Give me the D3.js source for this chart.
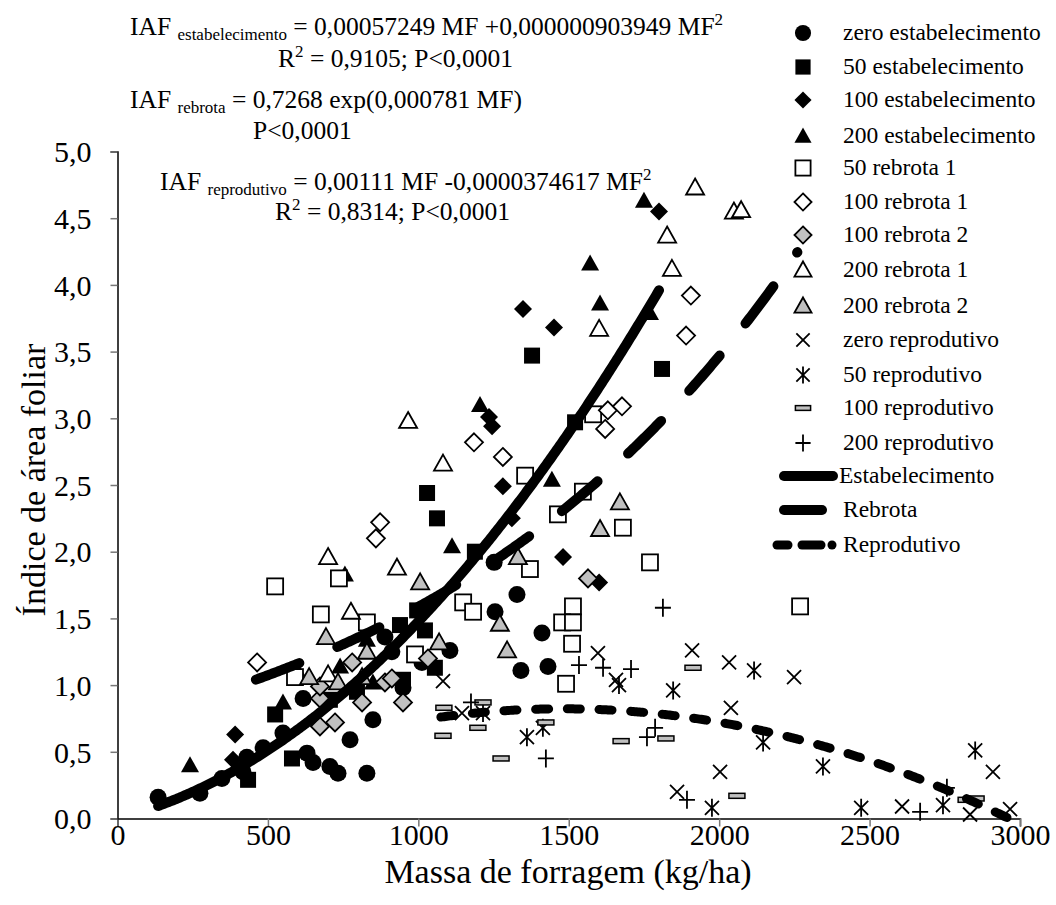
<!DOCTYPE html>
<html><head><meta charset="utf-8">
<script src="https://cdn.jsdelivr.net/npm/d3@7"></script>
<style>body{margin:0;background:#fff} text{font-family:"Liberation Serif","Times New Roman",serif;fill:#000}</style>
</head><body><svg id="c" width="1056" height="905"></svg>
<script>
// ---- data ----
const xTicks=[0,500,1000,1500,2000,2500,3000];
const yTicks=[0,0.5,1,1.5,2,2.5,3,3.5,4,4.5,5];
const xTitle="Massa de forragem (kg/ha)";
const yTitle="Índice de área foliar";

const zeroEst=[[135,0.16],[274,0.19],[347,0.30],[417,0.35],[430,0.46],[484,0.53],[550,0.64],[617,0.90],[630,0.49],[650,0.42],[706,0.39],[733,0.34],[773,0.59],[829,0.34],[849,0.74],[889,1.36],[912,1.25],[949,0.98],[1012,1.17],[1105,1.26],[1252,1.92],[1328,1.68],[1255,1.55],[1411,1.39],[1341,1.11],[1431,1.14]];
const est50=[[434,0.29],[524,0.78],[580,0.45],[706,0.89],[796,0.95],[949,1.04],[939,1.45],[996,1.56],[1022,1.41],[1055,1.13],[1029,2.44],[1062,2.25],[1188,2.00],[1521,2.97],[1378,3.47],[1810,3.37]];
const est100=[[391,0.63],[384,0.44],[1245,2.94],[1281,2.49],[1481,1.96],[1601,1.77],[1311,2.25],[1348,3.82],[1451,3.68],[1800,4.55],[1235,3.01]];
const est200=[[241,0.40],[550,0.87],[600,1.10],[756,1.83],[829,1.34],[740,1.14],[849,1.02],[1112,2.04],[1205,3.10],[1444,2.54],[1571,4.16],[1604,3.86],[1750,4.63],[1770,3.79]];
const reb1_50=[[524,1.74],[676,1.53],[736,1.80],[829,1.47],[590,1.06],[989,1.23],[1355,2.57],[1547,2.45],[1464,2.28],[1371,1.87],[1680,2.18],[1770,1.92],[1149,1.62],[1182,1.55],[1514,1.59],[1478,1.47],[1514,1.47],[1511,1.31],[1581,3.03],[1491,1.01],[2269,1.59]];
const reb1_100=[[464,1.17],[873,2.22],[859,2.10],[1185,2.82],[1281,2.71],[1621,2.92],[1630,3.06],[1677,3.09],[1906,3.92],[1890,3.62]];
const reb2_100=[[780,1.17],[673,0.90],[673,0.69],[723,0.72],[813,0.87],[889,1.02],[912,1.05],[949,0.87],[1032,1.20],[1564,1.80],[673,0.99]];
const reb1_200=[[700,1.96],[776,1.55],[929,1.88],[700,1.08],[1082,2.66],[966,2.98],[1601,3.67],[1843,4.12],[1827,4.37],[1920,4.73],[2049,4.55],[2073,4.56]];
const reb2_200=[[693,1.36],[829,1.25],[637,1.06],[733,1.02],[813,1.06],[1006,1.77],[1069,1.32],[1670,2.37],[1604,2.17],[1331,1.96],[1271,1.46],[1295,1.26]];
const repZero=[[1145,0.79],[1597,1.24],[1657,1.04],[1910,1.26],[1860,0.20],[1082,1.03],[2033,1.17],[2249,1.06],[2039,0.83],[2003,0.35],[2608,0.09],[2834,0.03],[2910,0.35],[2967,0.07]];
const rep50=[[1361,0.61],[1414,0.68],[1215,0.79],[1667,1.00],[1847,0.96],[2116,1.11],[2146,0.57],[2345,0.39],[1976,0.08],[2472,0.08],[2744,0.10],[2851,0.51]];
const rep100=[[1085,0.83],[1215,0.87],[1198,0.68],[1082,0.62],[1275,0.45],[1424,0.72],[1674,0.58],[1823,0.60],[1913,1.13],[2059,0.17],[2821,0.14],[2854,0.15]];
const rep200=[[1534,1.15],[1614,1.13],[1707,1.12],[1175,0.87],[1424,0.45],[1787,0.68],[1760,0.61],[1893,0.14],[1813,1.58],[2668,0.05],[2757,0.23]];

// trendline coefficients (from the printed equations) and fitted ranges
const estCoef=[0.00057249,0.000000903949];  const estRange=[135,1800];
const rebCoef=[0.7268,0.000781];            const rebRange=[460,2262];
const repCoef=[0.00111,0.000000374617];     const repRange=[1075,2965];

const seriesNames=["zero estabelecimento","50 estabelecimento","100 estabelecimento","200 estabelecimento","50 rebrota 1","100 rebrota 1","100 rebrota 2","200 rebrota 1","200 rebrota 2","zero reprodutivo","50 reprodutivo","100 reprodutivo","200 reprodutivo"];
const seriesData=[zeroEst,est50,est100,est200,reb1_50,reb1_100,reb2_100,reb1_200,reb2_200,repZero,rep50,rep100,rep200];
const seriesSym=["circle","square","diamond","triangle","square","diamond","diamond","triangle","triangle","x","asterisk","bar","plus"];
const seriesFill=["#000","#000","#000","#000","#fff","#fff","#c0c0c0","#fff","#c0c0c0","none","none","#c0c0c0","none"];
const lineNames=["Estabelecimento","Rebrota","Reprodutivo"];

// ---- chart ----
const svg=d3.select("#c");
const x=d3.scaleLinear().domain([0,3000]).range([117.5,1020]);
const y=d3.scaleLinear().domain([0,5]).range([818.5,151.5]);

// axes
const xa=svg.append("g").attr("transform","translate(0,818.5)").call(d3.axisBottom(x).tickValues(xTicks).tickSize(8).tickFormat(d3.format("d")));
const ya=svg.append("g").attr("transform","translate(117.5,0)").call(d3.axisLeft(y).tickValues(yTicks).tickSize(7).tickFormat(d=>d3.format(".1f")(d).replace(".",",")));
[xa,ya].forEach(g=>{g.select(".domain").attr("stroke","#000").attr("stroke-width",1.5);
  g.selectAll(".tick line").attr("stroke","#777").attr("stroke-width",1.5);
  g.selectAll("text").attr("font-family","Liberation Serif").attr("font-size",30).attr("fill","#000");});
xa.selectAll("text").attr("y",0).attr("dy",0).attr("transform","translate(0,26)");
ya.selectAll("text").attr("x",-26).attr("dy","0.34em");
svg.append("text").attr("x",568).attr("y",883).attr("text-anchor","middle").attr("font-size",34).text(xTitle);
svg.append("text").attr("transform","translate(45,480) rotate(-90)").attr("text-anchor","middle").attr("font-size",34).text(yTitle);

function drawSym(g,type,fill,s){
  s=s||1;
  if(type==="circle") g.append("circle").attr("r",8.5*s).attr("fill",fill);
  else if(type==="square") g.append("rect").attr("x",-8*s).attr("y",-8*s).attr("width",16*s).attr("height",16*s).attr("fill",fill).attr("stroke","#000").attr("stroke-width",fill==="#000"?0:1.8);
  else if(type==="diamond") g.append("path").attr("d",`M0,${-9*s}L${9*s},0L0,${9*s}L${-9*s},0Z`).attr("fill",fill).attr("stroke","#000").attr("stroke-width",fill==="#000"?0:1.8);
  else if(type==="triangle") g.append("path").attr("d",`M0,${-9*s}L${9*s},${7*s}L${-9*s},${7*s}Z`).attr("fill",fill).attr("stroke","#000").attr("stroke-width",fill==="#000"?0:1.8);
  else if(type==="x") g.append("path").attr("d",`M${-7*s},${-7*s}L${7*s},${7*s}M${-7*s},${7*s}L${7*s},${-7*s}`).attr("stroke","#000").attr("stroke-width",1.8).attr("fill","none");
  else if(type==="asterisk") g.append("path").attr("d",`M${-7*s},${-7*s}L${7*s},${7*s}M${-7*s},${7*s}L${7*s},${-7*s}M0,${-9*s}L0,${9*s}`).attr("stroke","#000").attr("stroke-width",1.8).attr("fill","none");
  else if(type==="bar") g.append("rect").attr("x",-8*s).attr("y",-2.5*s).attr("width",16*s).attr("height",5*s).attr("fill",fill).attr("stroke","#000").attr("stroke-width",1.5);
  else if(type==="plus") g.append("path").attr("d",`M${-8*s},0L${8*s},0M0,${-9*s}L0,${9*s}`).attr("stroke","#000").attr("stroke-width",1.8).attr("fill","none");
}

// points
seriesData.forEach((data,i)=>{
  const g=svg.append("g");
  data.forEach(d=>{
    const p=g.append("g").attr("transform",`translate(${x(d[0])},${y(d[1])})`);
    drawSym(p,seriesSym[i],seriesFill[i]);
  });
});

// trendlines
const line=d3.line().x(d=>x(d[0])).y(d=>y(d[1]));
const estPts=d3.range(estRange[0],estRange[1]+1,5).map(m=>[m,estCoef[0]*m+estCoef[1]*m*m]);
const rebPts=d3.range(rebRange[0],rebRange[1]+1,5).map(m=>[m,rebCoef[0]*Math.exp(rebCoef[1]*m)]);
const repPts=d3.range(repRange[0],repRange[1]+1,5).map(m=>[m,repCoef[0]*m-repCoef[1]*m*m]);
svg.append("path").attr("d",line(estPts)).attr("fill","none").attr("stroke","#000").attr("stroke-width",10).attr("stroke-linecap","round");
const rp=svg.append("path").attr("d",line(rebPts)).attr("fill","none").attr("stroke","#000").attr("stroke-width",10).attr("stroke-linecap","round");
const L=rp.node().getTotalLength(); const n=Math.round(L/88); const P=(L-0.5)/n;
rp.attr("stroke-dasharray",`${(0.53*P).toFixed(2)},${(0.47*P).toFixed(2)}`);
svg.append("path").attr("d",line(repPts)).attr("fill","none").attr("stroke","#000").attr("stroke-width",9).attr("stroke-linecap","round").attr("stroke-dasharray","13,18.7");

// legend
const legY=[33,67,100,136,168,202,235,270,306,340,375,408,443,476,510,545];
seriesNames.forEach((n,i)=>{
  const p=svg.append("g").attr("transform",`translate(803,${legY[i]})`);
  drawSym(p,seriesSym[i],seriesFill[i],0.95);
  svg.append("text").attr("x",843).attr("y",legY[i]+7).attr("font-size",23.5).text(n);
});
const legSegs=[[[784,833]],[[784,822]],[[777,788],[802,821],[832,832]]];
lineNames.forEach((n,i)=>{
  const yy=legY[13+i];
  legSegs[i].forEach(sg=>svg.append("line").attr("x1",sg[0]).attr("x2",sg[1]).attr("y1",yy).attr("y2",yy)
    .attr("stroke","#000").attr("stroke-width",i===2?9:10).attr("stroke-linecap","round"));
  svg.append("text").attr("x",i===0?839:843).attr("y",yy+7).attr("font-size",23.5).text(n);
});

// equations
function eq(xp,yp,parts){
  const t=svg.append("text").attr("x",xp).attr("y",yp).attr("font-size",25.5);
  parts.forEach(p=>{
    const s=t.append("tspan").text(p[0]);
    if(p[1]==="sub") s.attr("font-size",17).attr("dy",5);
    else if(p[1]==="sup") s.attr("font-size",17).attr("dy",-10);
    else if(p[1]==="back") s.attr("dy",p[2]);
  });
}
eq(130,35,[["IAF "],["estabelecimento","sub"],[" = 0,00057249 MF +0,000000903949 MF","back",-5],["2","sup"]]);
eq(278,67,[["R"],["2","sup"],[" = 0,9105; P<0,0001","back",10]]);
eq(130,108,[["IAF "],["rebrota","sub"],[" = 0,7268 exp(0,000781 MF)","back",-5]]);
eq(253,139,[["P<0,0001"]]);
eq(160,190,[["IAF "],["reprodutivo","sub"],[" = 0,00111 MF -0,0000374617 MF","back",-5],["2","sup"]]);
eq(275,220,[["R"],["2","sup"],[" = 0,8314; P<0,0001","back",10]]);
</script></body></html>
